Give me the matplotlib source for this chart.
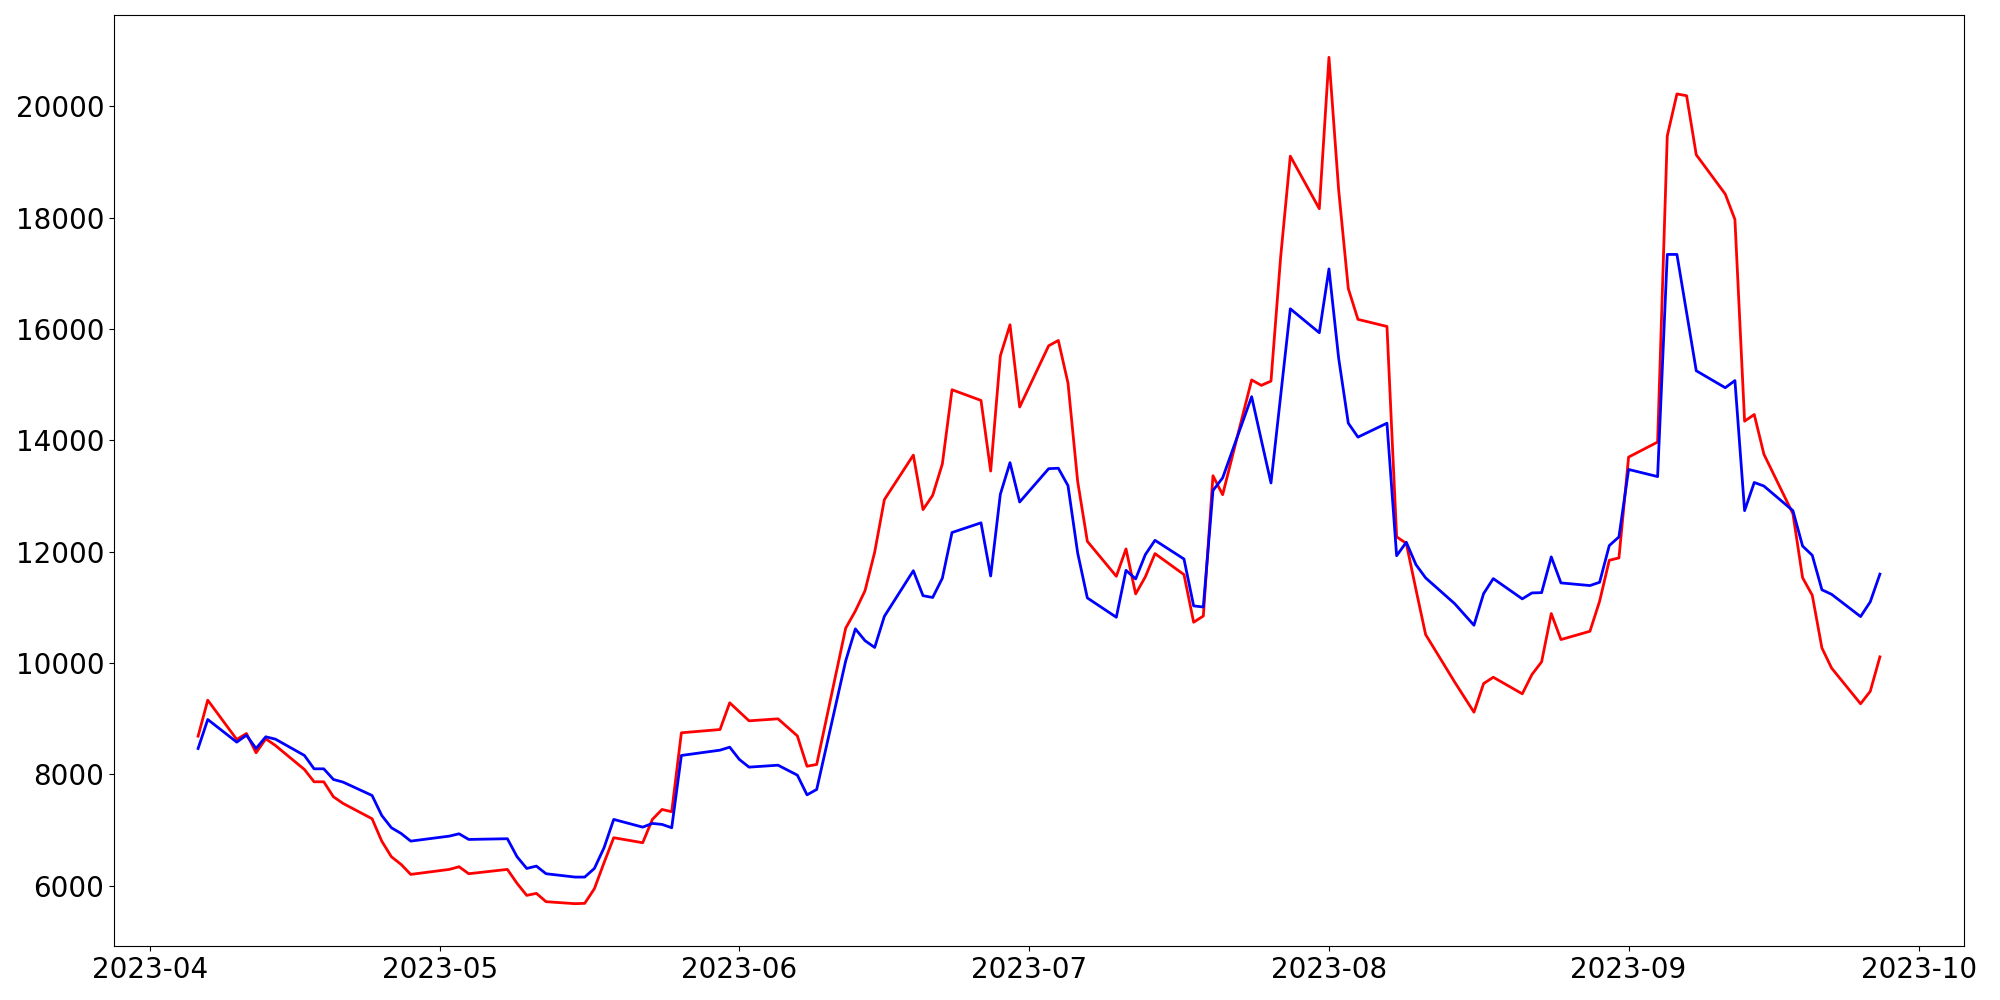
import matplotlib

matplotlib.use("Agg")
import matplotlib.pyplot as plt
import pandas as pd

# trading days (KRX calendar), grouped by month
dias_abr = [6, 7, 10, 11, 12, 13, 14, 17, 18, 19, 20, 21, 24, 25, 26, 27, 28]
dias_mai = [2, 3, 4, 8, 9, 10, 11, 12, 15, 16, 17, 18, 19, 22, 23, 24, 25, 26, 30, 31]
dias_jun = [1, 2, 5, 7, 8, 9, 12, 13, 14, 15, 16, 19, 20, 21, 22, 23, 26, 27, 28, 29, 30]
dias_jul = [3, 4, 5, 6, 7, 10, 11, 12, 13, 14, 17, 18, 19, 20, 21, 24, 25, 26, 27, 28, 31]
dias_ago = [1, 2, 3, 4, 7, 8, 9, 10, 11, 14, 16, 17, 18, 21, 22, 23, 24, 25, 28, 29, 30, 31]
dias_set = [1, 4, 5, 6, 7, 8, 11, 12, 13, 14, 15, 18, 19, 20, 21, 22, 25, 26, 27]

serie_vermelha = [
    8686, 9333, 8627, 8734, 8388, 8639, 8519, 8088, 7867, 7867, 7598, 7478, 7203, 6801, 6520, 6383, 6203,
    6293, 6341, 6215, 6293, 6042, 5826, 5862, 5713, 5677, 5683, 5946, 6413, 6862, 6772, 7191, 7370, 7329,
    8747, 8806, 9286,
    9124, 8962, 8998, 8691, 8146, 8178, 10627, 10935, 11300, 11993, 12935, 13736, 12756, 13013, 13577,
    14910, 14718, 13449, 15519, 16077, 14600,
    15700, 15795, 15030, 13264, 12187, 11559, 12050, 11242, 11548, 11966, 11589, 10733, 10845, 13365,
    13024, 15086, 14989, 15065, 17293, 19106, 18162,
    20882, 18503, 16727, 16174, 16047, 12268, 12150, 11320, 10512, 9660, 9117, 9632, 9745, 9447, 9794,
    10022, 10889, 10422, 10571, 11110, 11846, 11889,
    13700, 13970, 19469, 20224, 20192, 19131, 18425, 17968, 14345, 14465, 13751, 12682, 11533, 11219,
    10271, 9910, 9268, 9492, 10111,
]

serie_azul = [
    8465, 8986, 8579, 8704, 8465, 8675, 8633, 8340, 8100, 8100, 7909, 7861, 7621, 7262, 7041, 6939, 6801,
    6891, 6933, 6831, 6844, 6520, 6310, 6352, 6215, 6155, 6155, 6310, 6682, 7191, 7052, 7119, 7101, 7041,
    8340, 8435, 8489,
    8268, 8130, 8165, 7986, 7632, 7729, 10038, 10614, 10402, 10280, 10839, 11659, 11210, 11178, 11524,
    12345, 12519, 11564, 13032, 13600, 12893,
    13492, 13500, 13187, 11978, 11170, 10823, 11666, 11512, 11948, 12205, 11869, 11027, 11007, 13100,
    13327, 14785, 14006, 13235, 14799, 16364, 15934,
    17081, 15479, 14309, 14059, 14309, 11928, 12170, 11768, 11530, 11068, 10679, 11248, 11517, 11153,
    11260, 11265, 11907, 11440, 11392, 11451, 12110, 12266,
    13478, 13350, 17341, 17341, 16296, 15251, 14946, 15075, 12738, 13244, 13180, 12738, 12102, 11936,
    11316, 11235, 10835, 11099, 11598,
]


def montar_datas() -> pd.DatetimeIndex:
    meses = [(4, dias_abr), (5, dias_mai), (6, dias_jun), (7, dias_jul), (8, dias_ago), (9, dias_set)]
    textos = [f"2023-{mes:02d}-{dia:02d}" for mes, dias in meses for dia in dias]
    return pd.to_datetime(textos)


def salvar_grafico() -> None:
    datas = montar_datas()

    fig, ax = plt.subplots(figsize=(20, 10), dpi=100)
    ax.plot(datas, serie_vermelha, color="red", linewidth=2)
    ax.plot(datas, serie_azul, color="blue", linewidth=2)

    ax.tick_params(labelsize=20)
    fig.subplots_adjust(left=0.057, right=0.982, top=0.985, bottom=0.054)
    fig.savefig("out.png", dpi=100)
    plt.close(fig)


salvar_grafico()
